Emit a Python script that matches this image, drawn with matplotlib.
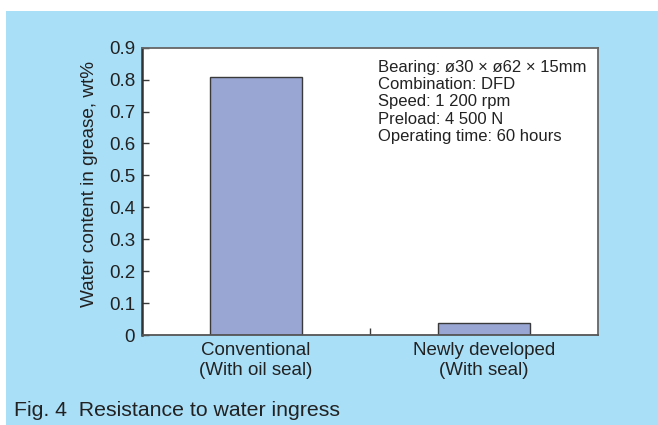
import matplotlib.pyplot as plt
from matplotlib.patches import Rectangle

# data
categories = ['Conventional\n(With oil seal)', 'Newly developed\n(With seal)']
water_content = [0.807, 0.039]
y_ticks = [0, 0.1, 0.2, 0.3, 0.4, 0.5, 0.6, 0.7, 0.8, 0.9]
y_tick_labels = ['0', '0.1', '0.2', '0.3', '0.4', '0.5', '0.6', '0.7', '0.8', '0.9']
conditions = ['Bearing: \u00f830 \u00d7 \u00f862 \u00d7 15mm',
              'Combination: DFD',
              'Speed: 1 200 rpm',
              'Preload: 4 500 N',
              'Operating time: 60 hours']

plt.rcParams['font.family'] = ['Liberation Sans', 'DejaVu Sans']

bg_blue = '#aadff8'
bar_color = '#99a5d3'
edge = '#3a3a3a'
text_color = '#222222'

fig = plt.figure(figsize=(6.58, 4.25), dpi=100, facecolor='white')
# light blue panel with thin white margin top and left
fig.add_artist(Rectangle((6 / 658, 0), 1, 1 - 11 / 425, transform=fig.transFigure,
                         facecolor=bg_blue, edgecolor='none', zorder=-5))

ax = fig.add_axes([142 / 658, 1 - 335 / 425, (598 - 142) / 658, (335 - 47.7) / 425])
ax.set_zorder(1)
ax.set_facecolor('white')

x = list(range(len(categories)))
ax.bar(x, water_content, width=0.4, color=bar_color, edgecolor=edge, linewidth=1.0, zorder=2)

ax.set_xlim(-0.5, 1.5)
ax.set_ylim(0, 0.9)
ax.set_yticks(y_ticks)
ax.set_yticklabels(y_tick_labels)
ax.tick_params(axis='y', direction='in', length=5, width=1, color=edge,
               labelsize=13.5, labelcolor=text_color, pad=5)

# category labels under bars, single in-tick between them
ax.set_xticks([0.5])
ax.set_xticklabels([''])
ax.tick_params(axis='x', direction='in', length=5, width=1, color=edge)
for xi, lab in zip(x, categories):
    ax.annotate(lab, xy=(xi, 0), xycoords=('data', 'axes fraction'),
                xytext=(0, -5), textcoords='offset points', ha='center', va='top',
                fontsize=13.5, color=text_color, linespacing=1.2, annotation_clip=False)

ax.set_ylabel('Water content in grease, wt%', fontsize=13.7, color=text_color)
ax.yaxis.set_label_coords(-0.096, 0.524)

ax.spines['left'].set_linewidth(1.8)
ax.spines['left'].set_color('#333333')
ax.spines['bottom'].set_linewidth(1.3)
ax.spines['bottom'].set_color('#555555')
for s in ['top', 'right']:
    ax.spines[s].set_linewidth(1.3)
    ax.spines[s].set_color('#666666')

ax.text(0.518, 0.958, '\n'.join(conditions), transform=ax.transAxes, ha='left', va='top',
        fontsize=12, color=text_color, linespacing=1.19)

fig.text(14 / 658, 1 - 410 / 425, 'Fig. 4  Resistance to water ingress', ha='left', va='center',
         fontsize=15.3, color=text_color)

fig.savefig('out.png', dpi=100, facecolor=fig.get_facecolor())
